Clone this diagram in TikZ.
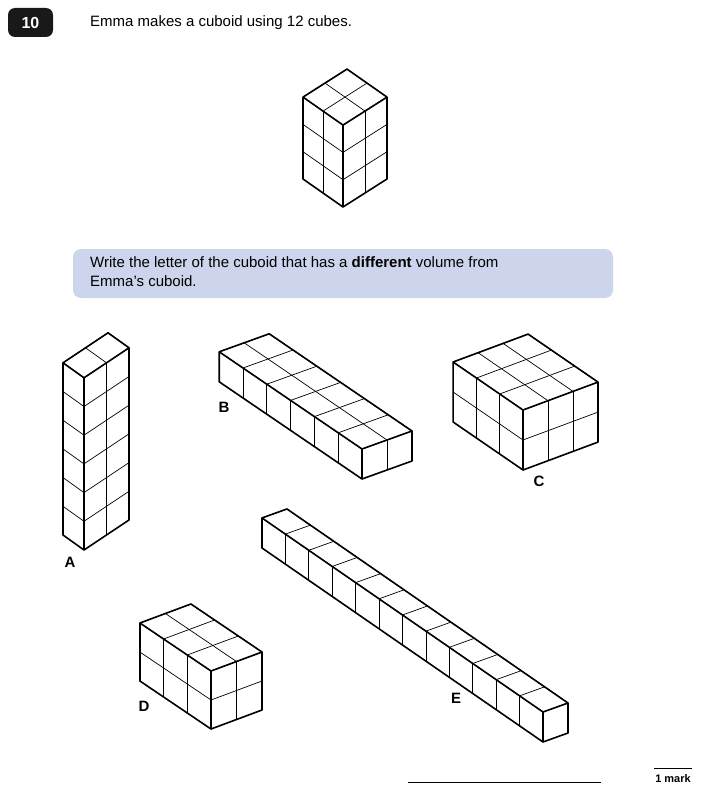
\documentclass[tikz,border=0pt]{standalone}
\usepackage{fontspec}
\setmainfont{Liberation Sans}
\usetikzlibrary{calc}
\definecolor{qblue}{HTML}{CDD5EC}
\tikzset{thin line/.style={line width=0.7pt},outline/.style={line width=1.6pt,line join=round},
lbl/.style={font=\fontsize{15}{18}\selectfont\bfseries,inner sep=0pt}}
% #1 P  #2 L  #3 R  #4 H(up, negative y)  #5 nl #6 nr #7 nh
\newcommand\mycub[7]{%
\coordinate (P) at (#1);
\coordinate (T) at ($(P)+#7*(#4)$);
\foreach \i in {1,...,#5}{\draw[thin line] ($(P)+\i*(#2)$) -- ++($#7*(#4)$);
  \draw[thin line] ($(T)+\i*(#2)$) -- ++($#6*(#3)$);}
\foreach \i in {1,...,#6}{\draw[thin line] ($(P)+\i*(#3)$) -- ++($#7*(#4)$);
  \draw[thin line] ($(T)+\i*(#3)$) -- ++($#5*(#2)$);}
\foreach \j in {1,...,#7}{\draw[thin line] ($(P)+\j*(#4)$) -- ++($#5*(#2)$);
  \draw[thin line] ($(P)+\j*(#4)$) -- ++($#6*(#3)$);}
\draw[outline] (P) -- ($(P)+#5*(#2)$) -- ($(T)+#5*(#2)$) -- ($(T)+#5*(#2)+#6*(#3)$) -- ($(T)+#6*(#3)$) -- ($(P)+#6*(#3)$) -- cycle;
\draw[outline] (P) -- (T) -- ($(T)+#5*(#2)$) (T) -- ($(T)+#6*(#3)$);
}
\begin{document}
\begin{tikzpicture}[x=1pt,y=-1pt]
\useasboundingbox (0,0) rectangle (701,792);
\fill[black!90,rounded corners=7pt] (8,8) rectangle (53,37);
\node[font=\fontsize{16}{18}\selectfont\bfseries,text=white] (num) at (30.5,22.5) {10};
\node[font=\fontsize{15}{18}\selectfont,anchor=west,inner sep=0pt] (title) at (90,23) {Emma makes a cuboid using 12 cubes.};
\fill[qblue,rounded corners=8pt] (73,249) rectangle (613,298);
\node[font=\fontsize{15}{19}\selectfont,anchor=north west,align=left,inner sep=0pt] (q) at (90,256) {Write the letter of the cuboid that has a \textbf{different} volume from\\Emma’s cuboid.};
% Emma
\mycub{343,207}{-20,-14}{22,-14}{0,-27.3}{2}{2}{3}
% A
\mycub{84,550}{-21,-15}{22.5,-15}{0,-28.7}{1}{2}{6}
% B
\mycub{362,479}{-23.8,-16.2}{25,-9}{0,-30}{6}{2}{1}
% C
\mycub{523,470}{-23.3,-16}{25,-9.3}{0,-30}{3}{3}{2}
% D
\mycub{211,729}{-23.7,-16}{25.5,-9.5}{0,-29}{3}{2}{2}
% E
\mycub{543,742}{-23.42,-16.17}{25,-9}{0,-30}{12}{1}{1}
\node[lbl] (la) at (70,562) {A};
\node[lbl] (lb) at (224,407) {B};
\node[lbl] (lc) at (539,481) {C};
\node[lbl] (ld) at (144,706) {D};
\node[lbl] (le) at (456,698) {E};
\coordinate (a1) at (408,782); \coordinate (a2) at (601,782);
\draw[line width=0.9pt] (a1) -- (a2);
\coordinate (m1) at (654,768); \coordinate (m2) at (692,768);
\draw[line width=0.9pt] (m1) -- (m2);
\node[font=\fontsize{11}{13}\selectfont\bfseries,inner sep=0pt] (mark) at (673,779) {1 mark};
\end{tikzpicture}
\end{document}
